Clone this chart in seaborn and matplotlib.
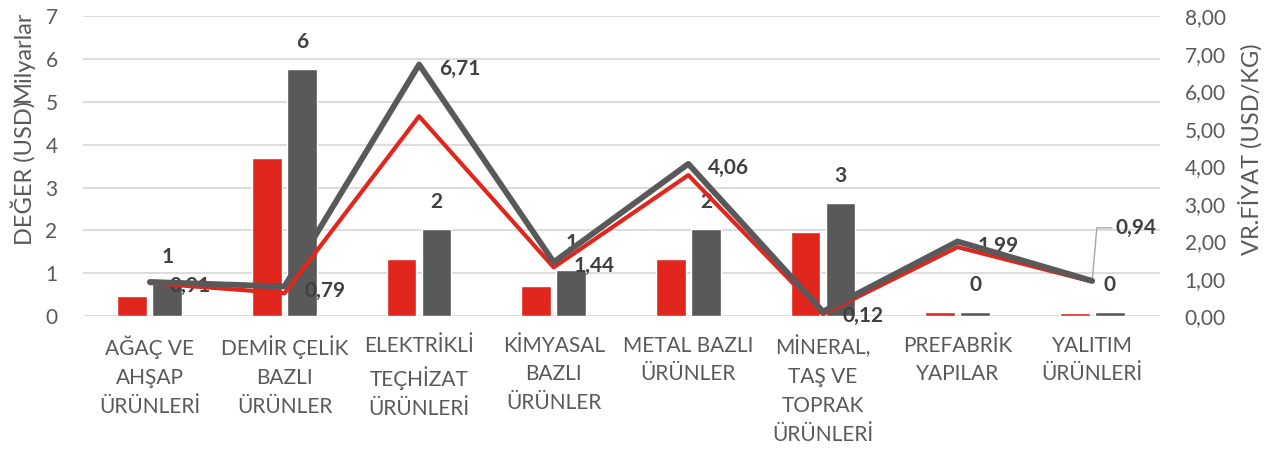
import numpy as np
import pandas as pd
import matplotlib.pyplot as plt
import seaborn as sns
from matplotlib.ticker import FuncFormatter

# Chart data
categories = ['AĞAÇ VE\nAHŞAP\nÜRÜNLERİ', 'DEMİR ÇELİK\nBAZLI\nÜRÜNLER', 'ELEKTRİKLİ\nTEÇHİZAT\nÜRÜNLERİ',
              'KİMYASAL\nBAZLI\nÜRÜNLER', 'METAL BAZLI\nÜRÜNLER', 'MİNERAL,\nTAŞ VE\nTOPRAK\nÜRÜNLERİ',
              'PREFABRİK\nYAPILAR', 'YALITIM\nÜRÜNLERİ']
value_red = [0.47, 3.69, 1.33, 0.70, 1.33, 1.96, 0.09, 0.07]
value_gray = [0.75, 5.76, 2.03, 1.07, 2.03, 2.64, 0.09, 0.09]
price_red = [0.88, 0.61, 5.33, 1.30, 3.76, 0.05, 1.84, 0.92]
price_gray = [0.91, 0.79, 6.71, 1.44, 4.06, 0.12, 1.99, 0.94]

RED = '#e0261d'
GRAY = '#595959'
TXT = '#595959'
LBL = '#404040'

sns.set_theme(style='white')
plt.rcParams['font.family'] = ['Lato', 'DejaVu Sans']

bars = pd.DataFrame({
    'cat': categories * 2,
    'val': value_red + value_gray,
    'series': ['A'] * len(categories) + ['B'] * len(categories),
})
lines = pd.DataFrame({
    'cat': categories * 2,
    'price': price_red + price_gray,
    'series': ['A'] * len(categories) + ['B'] * len(categories),
})

fig = plt.figure(figsize=(12.76, 4.49), dpi=100)
ax = fig.add_axes([0.0647, 0.296, 0.844, 0.668])

sns.barplot(data=bars, x='cat', y='val', hue='series', palette=[RED, GRAY],
            width=0.52, gap=0.15, ax=ax, legend=False, saturation=1, zorder=2)
ax.set_ylim(0, 7)
ax.set_yticks(range(0, 8))
ax.grid(axis='y', color='#d9d9d9', linewidth=1.3, zorder=0)
ax.set_axisbelow(True)
for s in ax.spines.values():
    s.set_visible(False)
ax.set_xlabel('')
ax.set_ylabel('')
ax.tick_params(axis='y', labelsize=15, colors=TXT, length=0, pad=18)
ax.tick_params(axis='x', labelsize=15, colors=TXT, length=0, pad=14)
for t in ax.get_xticklabels():
    t.set_linespacing(1.55)
    t.set_verticalalignment('top')

ax2 = ax.twinx()
sns.lineplot(data=lines, x='cat', y='price', hue='series', palette=[RED, GRAY],
             sort=False, ax=ax2, legend=False, zorder=4)
ax.set_xlim(-0.5, len(categories) - 0.5)
ax2.lines[0].set_linewidth(3.0)
ax2.lines[1].set_linewidth(4.2)
ax2.set_ylim(0, 8)
ax2.set_yticks(range(0, 9))
ax2.yaxis.set_major_formatter(FuncFormatter(lambda v, p: f'{v:.2f}'.replace('.', ',')))
ax2.tick_params(axis='y', labelsize=15, colors=TXT, length=0, pad=18)
for s in ax2.spines.values():
    s.set_visible(False)
ax2.set_ylabel('')
ax2.grid(False)

# bar labels above the gray bars
gray_bars = ax.containers[1]
for rect, v in zip(gray_bars, value_gray):
    ax.annotate(f'{v:.0f}', (rect.get_x() + rect.get_width() / 2, rect.get_height()),
                xytext=(0, 17), textcoords='offset pixels', ha='center', va='bottom',
                fontsize=15, fontweight='bold', color=LBL, zorder=5)

# line labels (gray series)
for i, v in enumerate(price_gray):
    txt = f'{v:.2f}'.replace('.', ',')
    if i == len(price_gray) - 1:
        ax2.annotate(txt, (i, v), xytext=(23, 53), textcoords='offset pixels',
                     ha='left', va='center', fontsize=15, fontweight='bold', color=LBL,
                     arrowprops=dict(arrowstyle='-', color='#a6a6a6', lw=1,
                                     connectionstyle='angle,angleA=0,angleB=85,rad=0',
                                     shrinkA=0, shrinkB=0))
    else:
        ax2.annotate(txt, (i, v), xytext=(20, -4), textcoords='offset pixels',
                     ha='left', va='center', fontsize=15, fontweight='bold', color=LBL)

fig.text(0.008, 0.615, 'DEĞER (USD)', rotation=90, fontsize=17, color=TXT, ha='left', va='center')
fig.text(0.010, 0.875, 'Milyarlar', rotation=90, fontsize=17, color=TXT, ha='left', va='center')
fig.text(0.970, 0.668, 'VR.FİYAT (USD/KG)', rotation=90, fontsize=17, color=TXT, ha='left', va='center')

fig.savefig('out.png', dpi=100)
